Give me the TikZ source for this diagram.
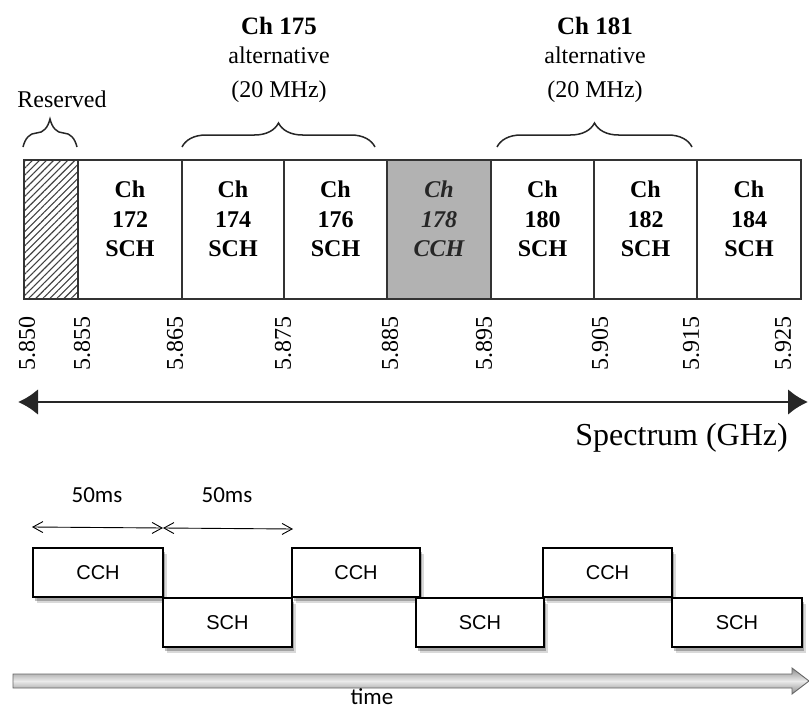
\documentclass[tikz,border=0pt]{standalone}
\usepackage{fontspec}
\setmainfont{Liberation Serif}
\newfontfamily\helvfont{Liberation Sans}
\newfontfamily\carlfont{Carlito}
\usetikzlibrary{decorations.pathreplacing,arrows.meta,patterns.meta,shadows}
\tikzset{
  chbox/.style={draw=black!80, line width=1.6pt, minimum height=139pt, inner sep=0pt, outer sep=0pt},
  chtxt/.style={font=\fontsize{24}{29.5}\selectfont\bfseries, align=center, inner sep=0pt},
  chitxt/.style={font=\fontsize{24}{29.5}\selectfont\bfseries\itshape, align=center, inner sep=0pt, text=black!85},
  freq/.style={font=\fontsize{24}{24}\selectfont, rotate=90, inner sep=0pt},
  toptxt/.style={font=\fontsize{24}{28}\selectfont, inner sep=0pt, anchor=base},
  bracestyle/.style={decorate, line width=1.5pt, draw=black!85},
  slot/.style={draw=black, line width=1.5pt, fill=white, minimum height=49pt, inner sep=0pt,
    font=\helvfont\fontsize{20}{20}\selectfont,
    drop shadow={shadow xshift=4pt, shadow yshift=-6pt, opacity=0.15, fill=black},
    drop shadow={shadow xshift=2pt, shadow yshift=-4pt, opacity=0.25, fill=black}},
  msarrow/.style={line width=0.9pt, {Straight Barb[length=10pt,width=11pt]}-{Straight Barb[length=10pt,width=11pt]}},
}
\begin{document}
\begin{tikzpicture}[x=1pt,y=-1pt]
\useasboundingbox (0,0) rectangle (809,709);

% top labels
\node[toptxt, font=\fontsize{25}{28}\selectfont\bfseries] (t175a) at (279,35) {Ch 175};
\node[toptxt] (t175b) at (279,64) {alternative};
\node[toptxt] (t175c) at (279,97) {(20 MHz)};
\node[toptxt, font=\fontsize{25}{28}\selectfont\bfseries] (t181a) at (595,35) {Ch 181};
\node[toptxt] (t181b) at (595,64) {alternative};
\node[toptxt] (t181c) at (595,97) {(20 MHz)};
\node[toptxt] (tres) at (62,107) {Reserved};

% braces
\draw[bracestyle, decoration={brace, amplitude=28pt}] (23,147) -- (77,147);
\draw[bracestyle, decoration={brace, amplitude=24pt}] (182,147) -- (375,147);
\draw[bracestyle, decoration={brace, amplitude=24pt}] (497,147) -- (692,147);

% channel boxes
\node[chbox, minimum width=54pt, pattern={Lines[angle=45,distance=5pt,line width=1.1pt]}, pattern color=black!75] (res) at (51,229.5) {};
\node[chbox, minimum width=104pt] (c172) at (130,229.5) {};
\node[chbox, minimum width=102pt] (c174) at (233,229.5) {};
\node[chbox, minimum width=103pt] (c176) at (335.5,229.5) {};
\node[chbox, minimum width=104pt, fill=black!30] (c178) at (439,229.5) {};
\node[chbox, minimum width=103pt] (c180) at (542.5,229.5) {};
\node[chbox, minimum width=103pt] (c182) at (645.5,229.5) {};
\node[chbox, minimum width=104pt] (c184) at (749,229.5) {};
\draw[draw=black!80, line width=2.2pt] (res.north west) rectangle (c184.south east);

\node[chtxt] (l172) at (130,219) {Ch\\172\\SCH};
\node[chtxt] (l174) at (233,219) {Ch\\174\\SCH};
\node[chtxt] (l176) at (335.5,219) {Ch\\176\\SCH};
\node[chitxt] (l178) at (439,219) {Ch\\178\\CCH};
\node[chtxt] (l180) at (542.5,219) {Ch\\180\\SCH};
\node[chtxt] (l182) at (645.5,219) {Ch\\182\\SCH};
\node[chtxt] (l184) at (749,219) {Ch\\184\\SCH};

% frequency labels
\node[freq] (f850) at (27,343) {5.850};
\node[freq] (f855) at (82,343) {5.855};
\node[freq] (f865) at (175,343) {5.865};
\node[freq] (f875) at (283,343) {5.875};
\node[freq] (f885) at (390,343) {5.885};
\node[freq] (f895) at (484,343) {5.895};
\node[freq] (f905) at (600,343) {5.905};
\node[freq] (f915) at (691,343) {5.915};
\node[freq] (f925) at (783,343) {5.925};

% spectrum arrow
\coordinate (sl) at (18,402);
\coordinate (sr) at (808,402);
\draw[line width=2.8pt, draw=black!85, {Latex[length=20pt,width=26pt]}-{Latex[length=20pt,width=26pt]}] (sl) -- (sr);
\node[font=\fontsize{32}{32}\selectfont, anchor=east, inner sep=0pt] (spec) at (788,438) {Spectrum (GHz)};

% timing
\node[font=\carlfont\fontsize{23}{23}\selectfont, inner sep=0pt] (ms1) at (97,495) {50ms};
\node[font=\carlfont\fontsize{23}{23}\selectfont, inner sep=0pt] (ms2) at (227,495) {50ms};
\coordinate (a1) at (32,527);
\coordinate (a2) at (163,528);
\coordinate (a3) at (293,529);
\draw[msarrow] (a1) -- (a2);
\draw[msarrow] (a2) -- (a3);

\node[slot, minimum width=130pt] (cch1) at (98,572.5) {CCH};
\node[slot, minimum width=129pt] (sch1) at (227.5,622.5) {SCH};
\node[slot, minimum width=128pt] (cch2) at (356,572.5) {CCH};
\node[slot, minimum width=128pt] (sch2) at (480,622.5) {SCH};
\node[slot, minimum width=129pt] (cch3) at (607.5,572.5) {CCH};
\node[slot, minimum width=130pt] (sch3) at (737,622.5) {SCH};

% time arrow
\draw[line width=0.9pt, draw=black!60, top color=black!45, bottom color=black!45, middle color=black!8]
  (13,674) -- (792,674) -- (792,668) -- (809,681) -- (792,694) -- (792,688) -- (13,688) -- cycle;
\node[font=\carlfont\fontsize{23}{23}\selectfont, inner sep=0pt, anchor=base] (time) at (372,704) {time};
\end{tikzpicture}
\end{document}
